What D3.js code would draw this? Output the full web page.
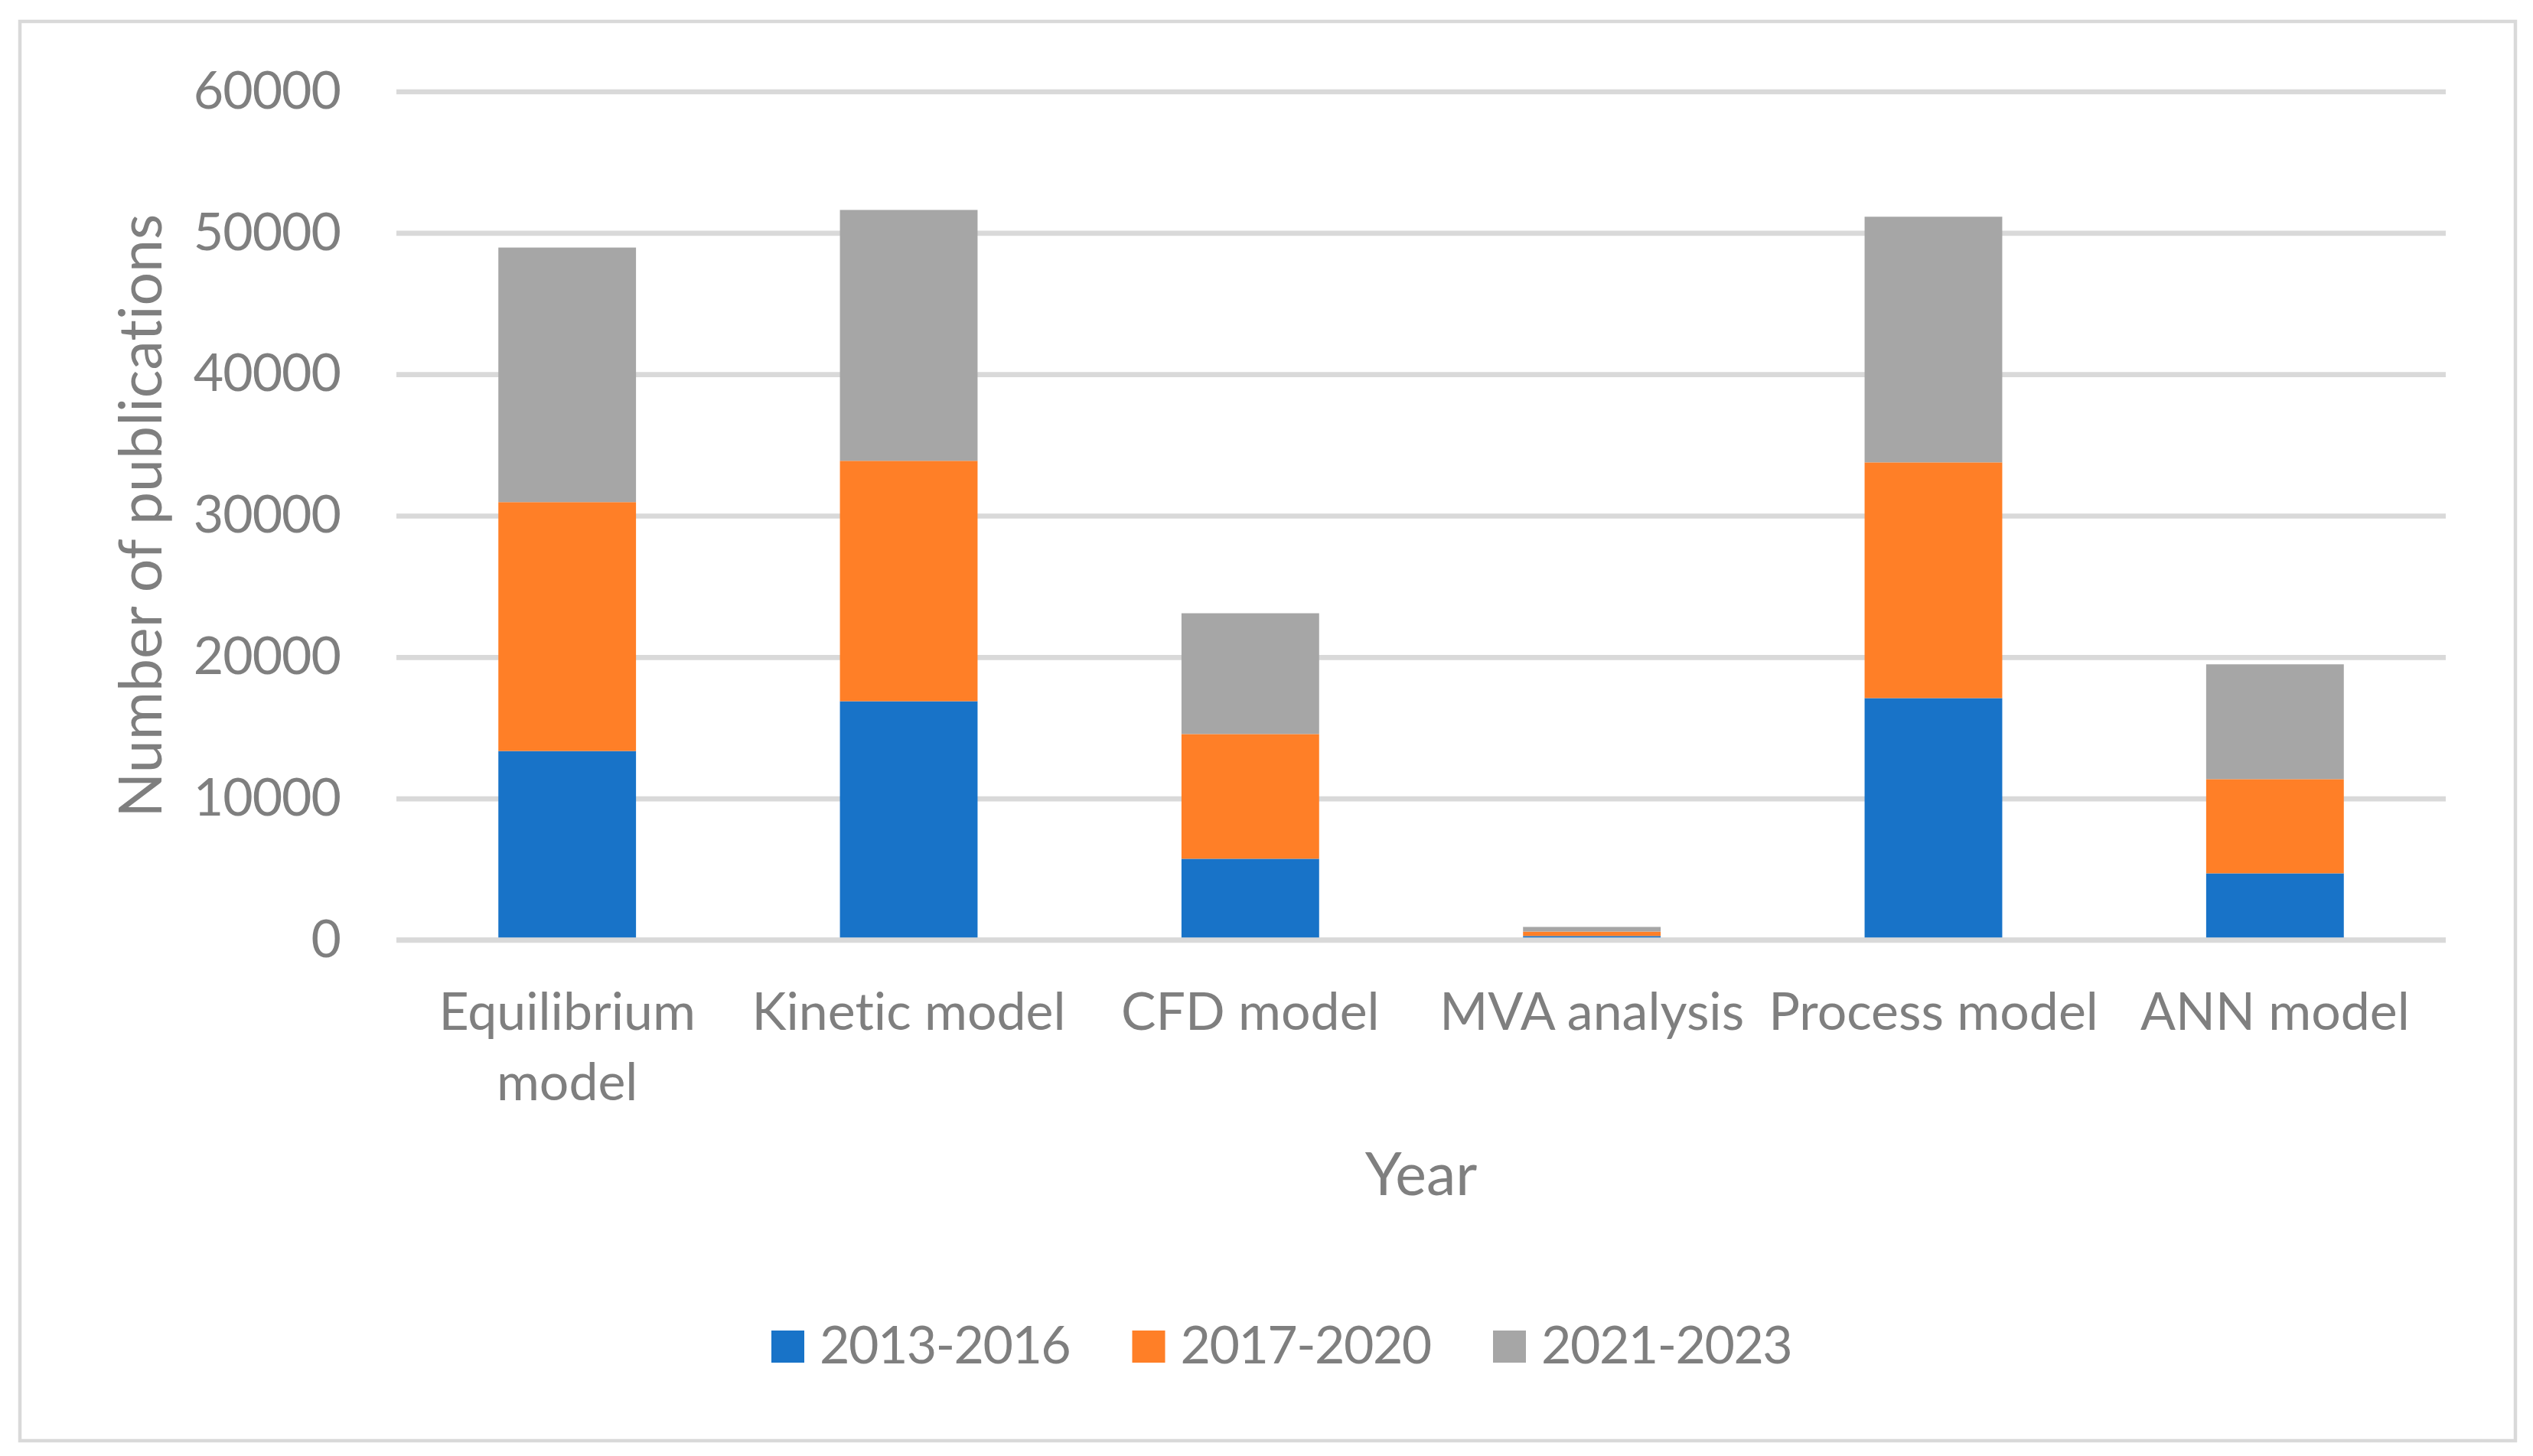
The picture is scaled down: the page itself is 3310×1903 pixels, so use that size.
<!DOCTYPE html>
<html>
<head>
<meta charset="utf-8">
<script src="https://cdn.jsdelivr.net/npm/d3@7"></script>
<style>
  body { margin: 0; background: #fff; }
  text { font-family: Lato, "Open Sans", sans-serif; fill: #7f7f7f; font-variant-ligatures: none; }
</style>
</head>
<body>
<svg id="chart"></svg>
<script>
/* global d3 */

// data
const categories = ["Equilibrium model", "Kinetic model", "CFD model", "MVA analysis", "Process model", "ANN model"];
const categoryLines = [["Equilibrium", "model"], ["Kinetic model"], ["CFD model"], ["MVA analysis"], ["Process model"], ["ANN model"]];
const seriesNames = ["2013-2016", "2017-2020", "2021-2023"];
const s2013 = [13360, 16880, 5740, 280, 17100, 4710];
const s2017 = [17600, 17000, 8820, 310, 16670, 6660];
const s2021 = [18000, 17740, 8540, 330, 17370, 8120];
const yTicks = [0, 10000, 20000, 30000, 40000, 50000, 60000];

const colors = ["#1873c8", "#ff7f27", "#a6a6a6"];

const W = 3310, H = 1903;
const plot = { left: 518, right: 3196, top: 119.5, bottom: 1228.5 };

const svg = d3.select("#chart").attr("width", W).attr("height", H);

// chart area border
svg.append("rect")
  .attr("x", 26).attr("y", 28)
  .attr("width", 3261).attr("height", 1855)
  .attr("fill", "#fff")
  .attr("stroke", "#d9d9d9")
  .attr("stroke-width", 4.5);

const x = d3.scaleBand().domain(categories).range([plot.left, plot.right]);
const y = d3.scaleLinear().domain([0, 60000]).range([plot.bottom, plot.top]);
const barW = x.bandwidth() * 0.403;

const rows = categories.map((c, i) => ({
  cat: c, "2013-2016": s2013[i], "2017-2020": s2017[i], "2021-2023": s2021[i],
}));
const stacked = d3.stack().keys(seriesNames)(rows);

// grid + y labels
const yAxis = svg.append("g")
  .attr("class", "axis axis--y")
  .attr("transform", `translate(${plot.left},0)`)
  .call(d3.axisLeft(y).tickValues(yTicks).tickSize(-(plot.right - plot.left)).tickPadding(73).tickFormat(d3.format("d")));
yAxis.select(".domain").remove();
yAxis.selectAll(".tick line").attr("stroke", "#d9d9d9").attr("stroke-width", 6.7);
yAxis.selectAll(".tick text")
  .attr("font-size", 68)
  .attr("letter-spacing", -1)
  .attr("fill", "#7f7f7f")
  .style("font-family", "Lato, sans-serif");

// bars
svg.append("g").selectAll("g")
  .data(stacked)
  .enter().append("g")
    .attr("fill", (d, i) => colors[i])
    .selectAll("rect")
    .data(d => d)
    .enter().append("rect")
      .attr("x", d => x(d.data.cat) + (x.bandwidth() - barW) / 2)
      .attr("width", barW)
      .attr("y", d => y(d[1]))
      .attr("height", d => y(d[0]) - y(d[1]));

// horizontal axis line over the bars
svg.append("line")
  .attr("x1", plot.left).attr("x2", plot.right)
  .attr("y1", y(0)).attr("y2", y(0))
  .attr("stroke", "#d9d9d9").attr("stroke-width", 6.7);

// category labels
const xl = svg.append("g").attr("class", "axis axis--x");
categories.forEach((c, i) => {
  const t = xl.append("text")
    .attr("x", x(c) + x.bandwidth() / 2)
    .attr("y", 1346)
    .attr("text-anchor", "middle")
    .attr("font-size", 68);
  categoryLines[i].forEach((line, j) => {
    t.append("tspan")
      .attr("x", x(c) + x.bandwidth() / 2)
      .attr("dy", j === 0 ? 0 : 92)
      .text(line);
  });
});

// axis titles
svg.append("text")
  .attr("x", (plot.left + plot.right) / 2)
  .attr("y", 1562)
  .attr("text-anchor", "middle")
  .attr("font-size", 77)
  .text("Year");

svg.append("text")
  .attr("transform", `translate(211,${(plot.top + plot.bottom) / 2}) rotate(-90)`)
  .attr("text-anchor", "middle")
  .attr("font-size", 77)
  .text("Number of publications");

// legend
const legend = svg.append("g").attr("class", "legend");
seriesNames.forEach((name, i) => {
  const lx = 1008 + i * 471.5;
  legend.append("rect")
    .attr("x", lx).attr("y", 1739)
    .attr("width", 43).attr("height", 42)
    .attr("fill", colors[i]);
  legend.append("text")
    .attr("x", lx + 63).attr("y", 1782)
    .attr("font-size", 68)
    .attr("letter-spacing", -1.5)
    .text(name);
});
</script>
</body>
</html>
